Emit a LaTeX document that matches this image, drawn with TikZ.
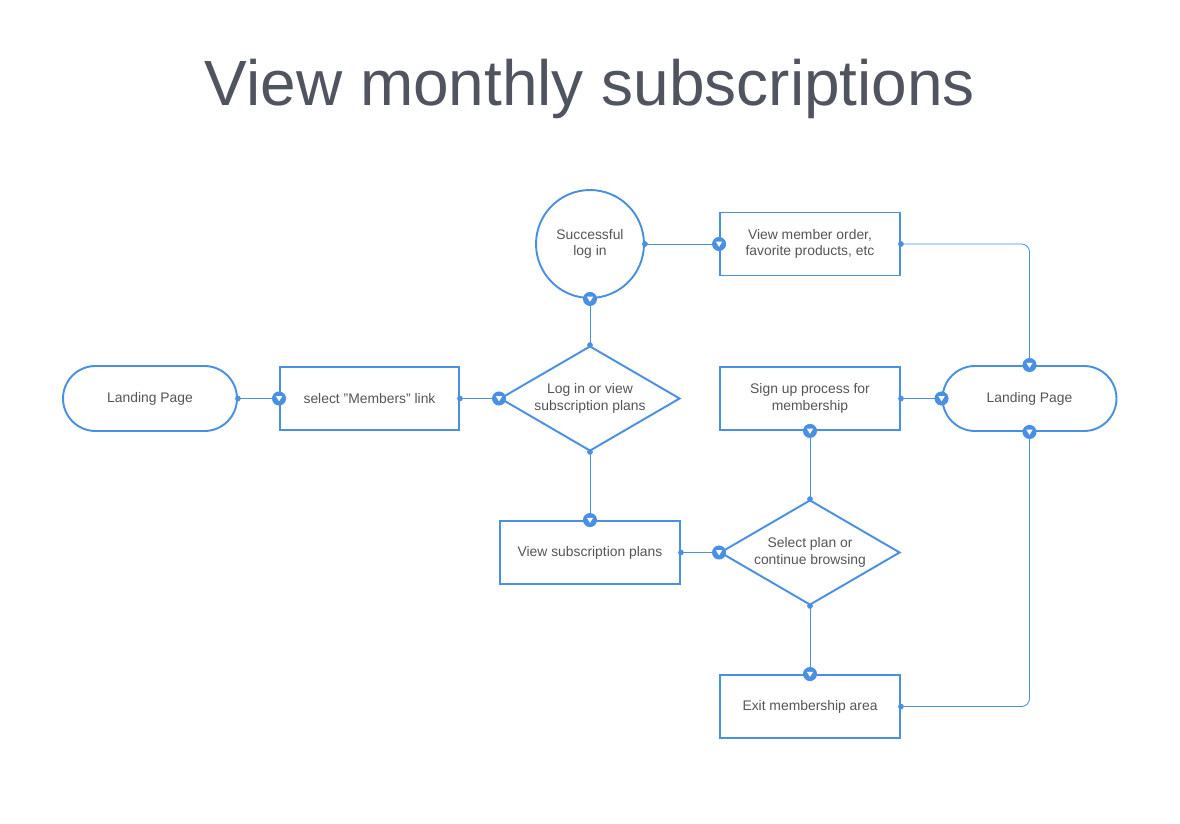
\documentclass[tikz,border=0pt]{standalone}
\usepackage{fontspec}
\setmainfont{Liberation Sans}
\usetikzlibrary{shapes.geometric, arrows.meta, positioning, calc}

\definecolor{flowblue}{RGB}{74,144,226}
\definecolor{titlegray}{RGB}{80,84,95}
\definecolor{textgray}{RGB}{85,85,85}

\begin{document}
\begin{tikzpicture}[
      x=0.02cm, y=-0.02cm,
      every node/.style={font=\fontsize{7.9}{9.5}\selectfont, text=textgray, align=center},
      box/.style={rectangle, draw=flowblue, line width=1.1pt, minimum width=3.6cm, minimum height=1.26cm, inner sep=0pt},
      terminal/.style={rectangle, draw=flowblue, line width=1.1pt, rounded corners=0.65cm, minimum width=3.48cm, minimum height=1.3cm},
      decision/.style={diamond, aspect=1.714, draw=flowblue, line width=1.1pt, minimum width=3.6cm, minimum height=2.1cm, inner sep=0pt},
      state/.style={circle, draw=flowblue, line width=1.1pt, minimum size=2.16cm, inner sep=0pt},
      link/.style={draw=flowblue, line width=0.5pt, {Circle[length=3.2pt]}-, shorten <=-1.6pt, rounded corners=0.16cm},
      tip/.style={circle, fill=flowblue, inner sep=0pt, minimum size=8pt,
        path picture={\fill[white] ($(path picture bounding box.center)+(-1.8pt,1.3pt)$) -- ++(3.6pt,0) -- ++(-1.8pt,-2.9pt) -- cycle;}}
    ]
    \useasboundingbox (0,0) rectangle (1180,824);

    \node[font=\fontsize{36.4}{40}\selectfont, text=titlegray] (title) at (590,89) {View monthly subscriptions};

    \node[terminal] (lpleft) at (150,398.5) {Landing Page};
    \node[box, minimum width=3.58cm] (members) at (369.5,398.5) {select "Members" link};
    \node[decision] (login) at (590,398.5) {Log in or view\\subscription plans};
    \node[state] (success) at (590,244) {Successful\\log in};
    \node[box] (order) at (810,244) {View member order,\\favorite products, etc};
    \node[terminal] (lpright) at (1029.5,398.5) {Landing Page};
    \node[box] (signup) at (810,398.5) {Sign up process for\\membership};
    \node[box] (plans) at (590,552.5) {View subscription plans};
    \node[decision] (select) at (810,552.5) {Select plan or\\continue browsing};
    \node[box] (exit) at (810,706.5) {Exit membership area};

    % connectors
    \draw[link] (lpleft.east) -- (members.west);
    \draw[link] (members.east) -- (login.west);
    \draw[link] (login.north) -- (success.south);
    \draw[link] (success.east) -- (order.west);
    \draw[link] (order.east) -| (lpright.north);
    \draw[link] (signup.east) -- (lpright.west);
    \draw[link] (login.south) -- (plans.north);
    \draw[link] (plans.east) -- (select.west);
    \draw[link] (select.north) -- (signup.south);
    \draw[link] (select.south) -- (exit.north);
    \draw[link] (exit.east) -| (lpright.south);

    % end markers
    \node[tip] at (members.west) {};
    \node[tip] at (login.west) {};
    \node[tip] at (success.south) {};
    \node[tip] at (order.west) {};
    \node[tip] at (lpright.north) {};
    \node[tip] at (lpright.west) {};
    \node[tip] at (plans.north) {};
    \node[tip] at (select.west) {};
    \node[tip] at (signup.south) {};
    \node[tip] at (exit.north) {};
    \node[tip] at (lpright.south) {};
  \end{tikzpicture}
\end{document}
